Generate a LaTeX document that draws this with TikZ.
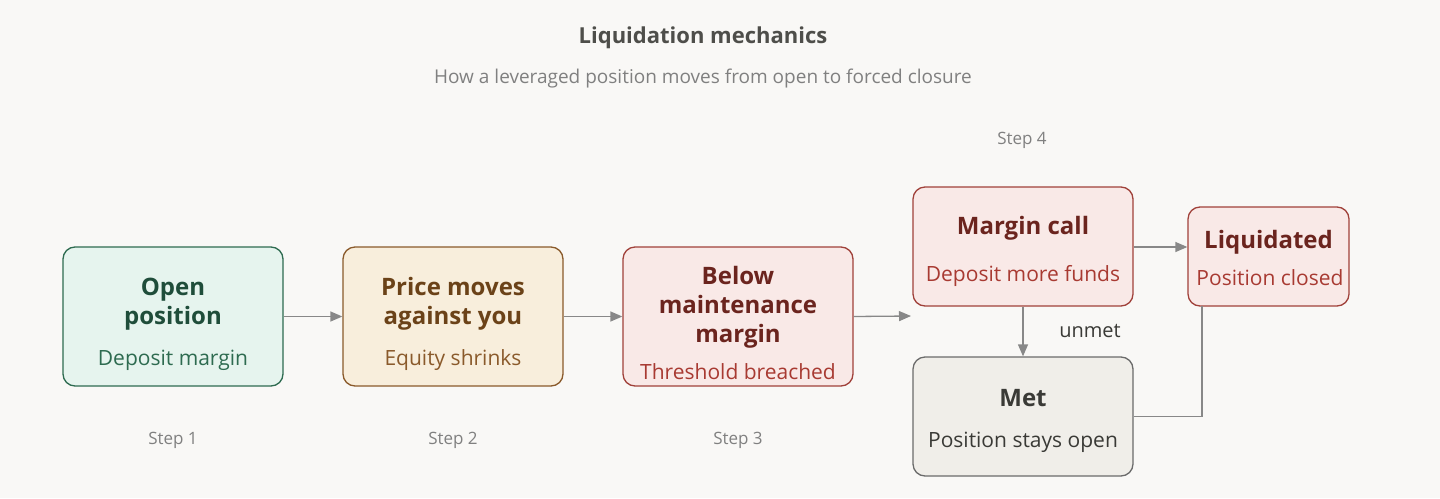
\documentclass[tikz,border=0pt]{standalone}
\usepackage{fontspec}
\setmainfont{Open Sans}
\usetikzlibrary{arrows.meta}
\definecolor{bg}{HTML}{F9F8F6}
\definecolor{gfill}{HTML}{E6F4EE}\definecolor{gdraw}{HTML}{2E6B50}\definecolor{gtext}{HTML}{1F4D3A}
\definecolor{ofill}{HTML}{F8EEDC}\definecolor{odraw}{HTML}{8A5A2B}\definecolor{otext}{HTML}{6B4218}
\definecolor{rfill}{HTML}{F9E9E7}\definecolor{rdraw}{HTML}{A0413A}\definecolor{rtext}{HTML}{6B241E}\definecolor{rsub}{HTML}{A83A32}
\definecolor{nfill}{HTML}{F0EEE9}\definecolor{ndraw}{HTML}{6B6B6B}\definecolor{ntext}{HTML}{3A3A36}
\definecolor{arr}{HTML}{888888}
\begin{document}
\begin{tikzpicture}[x=1pt,y=-1pt,
 box/.style={draw,line width=1.3pt,rounded corners=12pt,inner sep=0pt},
 ttl/.style={font=\fontsize{24}{29}\selectfont\bfseries,align=center},
 sub/.style={font=\fontsize{21}{25}\selectfont},
 steplbl/.style={font=\fontsize{17}{20}\selectfont,text=gray},
 ar/.style={draw=arr,line width=1.3pt,-{Triangle[length=12pt,width=10pt]}}]
\fill[bg] (0,0) rectangle (1440,498);
\useasboundingbox (0,0) rectangle (1440,498);
\node[font=\fontsize{22}{26}\selectfont\bfseries,text=ntext!90] (t) at (703,38) {Liquidation mechanics};
\node[font=\fontsize{19}{23}\selectfont,text=gray] (st) at (703,79) {How a leveraged position moves from open to forced closure};
% boxes
\node[box,draw=gdraw,fill=gfill,minimum width=220pt,minimum height=139pt] (a) at (173,316.5) {};
\node[ttl,text=gtext] at (173,304) {Open\\position};
\node[sub,text=gdraw] at (173,360) {Deposit margin};
\node[box,draw=odraw,fill=ofill,minimum width=220pt,minimum height=139pt] (b) at (453,316.5) {};
\node[ttl,text=otext] at (453,304) {Price moves\\against you};
\node[sub,text=odraw] at (453,360) {Equity shrinks};
\node[box,draw=rdraw,fill=rfill,minimum width=230pt,minimum height=139pt] (c) at (738,316.5) {};
\node[ttl,text=rtext] at (738,307) {Below\\maintenance\\margin};
\node[sub,text=rsub] at (738,372) {Threshold breached};
\node[box,draw=rdraw,fill=rfill,minimum width=220pt,minimum height=119pt] (d) at (1023,246.5) {};
\node[ttl,text=rtext] at (1023,228) {Margin call};
\node[sub,text=rsub] at (1023,276) {Deposit more funds};
\node[box,draw=rdraw,fill=rfill,minimum width=161pt,minimum height=99pt] (e) at (1268.5,256.5) {};
\node[ttl,text=rtext] at (1268.5,242) {Liquidated};
\node[sub,text=rsub] at (1270,278) {Position closed};
\node[box,draw=ndraw,fill=nfill,minimum width=220pt,minimum height=119pt] (f) at (1023,416.5) {};
\node[ttl,text=ntext] at (1023,398) {Met};
\node[sub,text=ntext] at (1023,442) {Position stays open};
% steps
\node[steplbl] (s1) at (173,440) {Step 1};
\node[steplbl] (s2) at (453,440) {Step 2};
\node[steplbl] (s3) at (738,440) {Step 3};
\node[steplbl] (s4) at (1022,140) {Step 4};
% arrows
\coordinate (cd) at (911,316);
\draw[ar] (a.east) -- (b.west);
\draw[ar] (b.east) -- (c.west);
\draw[ar] (c.east) -- (cd);
\draw[ar] (d.east|-0,247) -- (e.west|-0,247);
\draw[ar] (d.south) -- (f.north);
\node[font=\fontsize{20}{24}\selectfont,text=ntext] (u) at (1090,331) {unmet};
\draw[draw=arr,line width=1.3pt] (f.east) -| (1202,306);
\end{tikzpicture}
\end{document}
